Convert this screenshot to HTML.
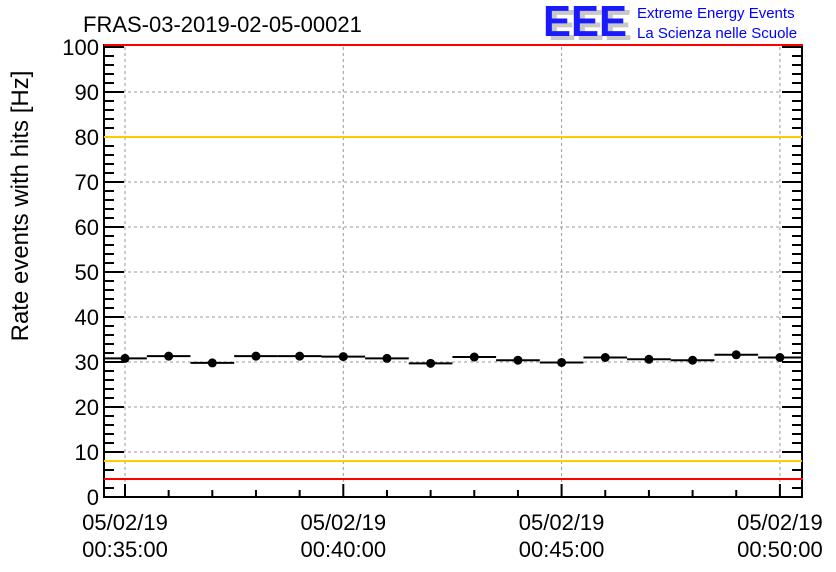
<!DOCTYPE html>
<html><head><meta charset="utf-8"><style>
body{margin:0;background:#fff;}
svg{display:block;font-family:"Liberation Sans",sans-serif;}
</style></head><body>
<svg id="chart" width="836" height="572">
<rect width="836" height="572" fill="#fff"/>
<text x="83" y="32" font-size="22">FRAS-03-2019-02-05-00021</text>
<g>
<text x="548" y="40" font-size="44" font-weight="bold" fill="#c8c8c8" textLength="84" lengthAdjust="spacingAndGlyphs">EEE</text>
<text x="543" y="36" font-size="44" font-weight="bold" fill="#1a1aff" textLength="84" lengthAdjust="spacingAndGlyphs">EEE</text>
<text x="637" y="18" font-size="15" fill="#0000ff">Extreme Energy Events</text>
<text x="637" y="38" font-size="15" fill="#0000ff">La Scienza nelle Scuole</text>
</g>
<text transform="translate(28,206) rotate(-90)" text-anchor="middle" font-size="24">Rate events with hits [Hz]</text>
<g id="grid"></g><g id="axes"></g><g id="marks"></g>
</svg>
<script>
const minutes=[35,36,37,38,39,40,41,42,43,44,45,46,47,48,49,50];
const rates=[30.8,31.3,29.8,31.3,31.3,31.2,30.8,29.7,31.1,30.4,29.9,31.0,30.6,30.4,31.6,31.0];
const yTicks=[0,10,20,30,40,50,60,70,80,90,100];
const xMajor=[35,40,45,50];
const xLabels=["00:35:00","00:40:00","00:45:00","00:50:00"];
const warnLevels=[8,80];
const alarmLevels=[4,100];

const L=104,R=802,T=47,B=497;
const x0=125,pxPerMin=43.66;
const X=m=>x0+(m-35)*pxPerMin;
const Y=v=>B-(v/100)*(B-T);
const NS="http://www.w3.org/2000/svg";
function mk(p,tag,a){const e=document.createElementNS(NS,tag);for(const k in a)e.setAttribute(k,a[k]);p.appendChild(e);return e;}
const grid=document.getElementById('grid'),axes=document.getElementById('axes'),marks=document.getElementById('marks');

yTicks.forEach(v=>{
 if(v>0&&v<100){const g=mk(grid,'line',{x1:L,x2:R,y1:Y(v),y2:Y(v),stroke:'#999','stroke-dasharray':'3,3'});
 
 }
 const t=mk(axes,'text',{x:99,y:Y(v)+8,'text-anchor':'end','font-size':22});t.textContent=v;
 
 
});
xMajor.forEach((m,i)=>{
 const g=mk(grid,'line',{x1:X(m),x2:X(m),y1:T,y2:B,stroke:'#999','stroke-dasharray':'3,3'});
 
 
 const t=mk(axes,'text',{x:X(m),y:530,'text-anchor':'middle','font-size':22});
 
 
 mk(t,'tspan',{x:X(m),dy:0}).textContent='05/02/19';
 mk(t,'tspan',{x:X(m),dy:27}).textContent=xLabels[i];
});
// ticks
for(let v=0;v<=100;v+=2){const len=v%10===0?20:10;
 mk(axes,'line',{x1:L,x2:L+len,y1:Y(v),y2:Y(v),stroke:'#000','stroke-width':2});
 mk(axes,'line',{x1:R,x2:R-len,y1:Y(v),y2:Y(v),stroke:'#000','stroke-width':2});}
for(let m=35;m<=50;m++){const len=(m%5===0)?13:7;
 mk(axes,'line',{x1:X(m),x2:X(m),y1:B,y2:B-len,stroke:'#000','stroke-width':2});}
const fr=mk(axes,'rect',{x:L,y:T-2,width:R-L,height:B-T+2,fill:'none',stroke:'#000','stroke-width':2});


warnLevels.forEach(v=>{const l=mk(marks,'line',{x1:L,x2:R,y1:Y(v),y2:Y(v),stroke:'#ffcc00','stroke-width':2});
 
 });
alarmLevels.forEach(v=>{const l=mk(marks,'line',{x1:L,x2:R+1,y1:v===100?T-2:Y(v),y2:v===100?T-2:Y(v),stroke:'#ff0000','stroke-width':2});
 
 });
minutes.forEach((m,i)=>{
 const x1=Math.max(L,X(m-0.5)),x2=Math.min(R,X(m+0.5));
 const l=mk(marks,'line',{x1:x1,x2:x2,y1:Y(rates[i]),y2:Y(rates[i]),stroke:'#000','stroke-width':2});
 
 
 const c=mk(marks,'circle',{cx:X(m),cy:Y(rates[i]),r:4.5,fill:'#000'});
 
 
});
</script>
</body></html>
